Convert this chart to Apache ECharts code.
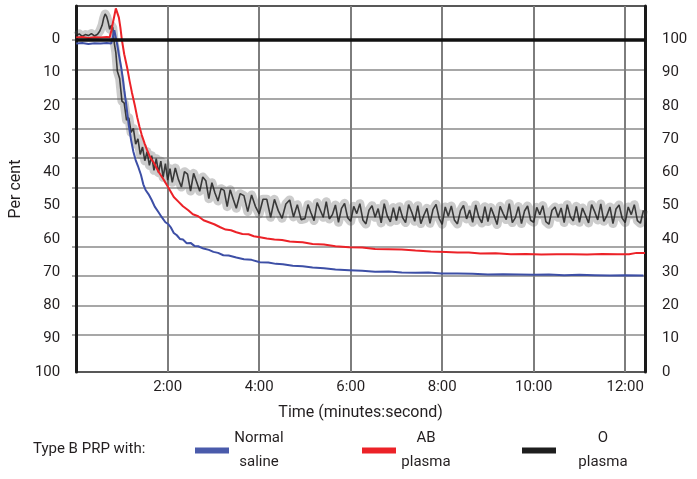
<!DOCTYPE html>
<html><head><meta charset="utf-8">
<script src="https://cdn.jsdelivr.net/npm/echarts@6/dist/echarts.min.js"></script>
<style>html,body{margin:0;padding:0;background:#fff}#c{width:697px;height:479px}</style>
</head><body><div id="c"></div>
<script>
// [time in seconds, per cent]
const bluePoints = [[0,1.3],[8,1.1],[16,1.4],[24,1.2],[32,1.3],[40,1.1],[46,1.3],[48,-0.6],[50,-2.7],[52,-0.5],[54,1.8],[56,4.6],[59,8.4],[61,11.6],[63,15.3],[65,18.5],[67,22.2],[69,25.9],[72,30.3],[75,33.8],[78,36.3],[81,38.1],[85,40.8],[88,43.6],[91,45.3],[95,46.6],[99,48.3],[103,50.3],[108,52],[112,53.4],[117,55],[121,55.6],[124,56.5],[128,58.2],[132,58.9],[136,60],[140,60.2],[145,61.3],[150,61.2],[155,62.1],[160,62.2],[167,62.9],[174,63.3],[180,63.9],[186,64.2],[193,64.9],[200,65],[210,65.6],[220,66.1],[230,66.3],[241,67],[252,67.1],[262,67.5],[271,67.6],[284,68.1],[297,68.2],[310,68.6],[325,68.8],[340,69.2],[358,69.4],[375,69.6],[392,69.9],[410,69.8],[427,70.1],[445,70.2],[462,70.1],[479,70.4],[500,70.4],[520,70.5],[540,70.7],[560,70.6],[580,70.7],[600,70.8],[620,70.7],[640,70.9],[660,70.8],[680,70.9],[700,71],[720,70.9],[744,71]];
const redPoints = [[0,-0.5],[8,-0.7],[16,-0.4],[24,-0.6],[32,-0.5],[40,-0.7],[44,-0.6],[46,-2.5],[48,-4.8],[50,-7],[52,-9.3],[54,-8.8],[56,-6.5],[58,-3.5],[60,0.3],[63,4.5],[67,8.7],[70,12.5],[73,15.9],[77,20],[80,23.4],[83,26.3],[86,28.8],[90,31.5],[93,33.3],[97,35.5],[102,37.2],[108,39.8],[115,42.3],[121,44.6],[128,47.4],[134,48.8],[140,50.2],[147,51.4],[153,52.6],[160,53.2],[167,54.4],[174,55],[181,55.6],[189,56.5],[196,57.2],[203,57.4],[210,58],[218,58.5],[226,58.6],[233,59.2],[241,59.5],[250,59.9],[260,60.2],[270,60.3],[280,60.8],[290,60.9],[297,61],[310,61.5],[325,61.7],[340,62.2],[358,62.5],[375,62.6],[392,63],[410,63.1],[427,63.2],[445,63.5],[465,63.8],[485,63.9],[500,64.1],[515,64.1],[530,64.4],[550,64.3],[570,64.6],[590,64.5],[610,64.7],[630,64.6],[650,64.6],[670,64.7],[690,64.5],[710,64.6],[725,64.6],[735,64.2],[746,64.2]];
const blackPoints = [[0,-1.0],[4,-1.6],[8,-0.9],[12,-1.4],[16,-1.1],[20,-1.7],[24,-1.0],[28,-1.5],[31,-2.5],[34,-4.2],[36,-6.3],[38,-7.6],[40,-6.8],[42,-5.1],[44,-3.0],[45,-2.7],[46,-4.2],[48,-3.5],[50,1.2],[52,4.0],[54,9.6],[57,11.8],[60,18.6],[63,19.2],[66,24.3],[69,23.6],[72,28],[75,26.8],[78,31.5],[81,29.9],[84,34.6],[87,32.4],[90,36.5],[93,33.8],[96,37.9],[99,35],[102,39.4],[105,35.9],[108,40.1],[111,36.6],[114,41.5],[117,37.4],[120,42.3],[123,38.9],[126,43],[130,38.7],[134,42.1],[138,44.4],[142,39.8],[146,40.5],[150,45.6],[154,40.3],[158,42.9],[162,45.7],[166,41.4],[170,42.5],[174,47.9],[178,43.1],[182,46.2],[186,48.6],[190,44.9],[194,45.4],[198,50.3],[202,45.2],[206,48.1],[210,50.8],[215,46.4],[220,47],[225,51.8],[230,46.8],[235,50.2],[240,52.5],[245,48.1],[250,48.1],[255,53.5],[260,48.1],[265,51.5],[270,53.8],[275,49.5],[280,48.3],[285,53.4],[290,49.7],[295,54.2],[300,53.9],[304,49.7],[308,52.2],[312,54.5],[316,49.1],[320,51.3],[324,53.5],[328,48.8],[332,54.0],[336,52.7],[340,49.8],[344,55.0],[348,50.8],[352,49.3],[356,53.6],[360,54.7],[364,50.2],[368,52.4],[372,49.4],[376,54.3],[380,55.5],[384,51.4],[388,50.0],[392,53.5],[396,50.9],[400,55.2],[404,49.4],[408,53.1],[412,54.9],[416,50.6],[420,54.5],[424,50.3],[428,53.5],[432,55.1],[436,49.7],[440,51.9],[444,54.7],[448,50.0],[452,55.4],[456,52.9],[460,50.8],[464,55.3],[468,51.1],[472,49.6],[476,53.8],[480,55.6],[484,50.4],[488,53.2],[492,50.1],[496,54.3],[500,55.5],[504,51.5],[508,49.9],[512,54.0],[516,51.3],[520,55.0],[524,49.8],[528,53.4],[532,55.2],[536,50.3],[540,54.8],[544,50.6],[548,53.0],[552,55.7],[556,50.2],[560,52.4],[564,54.2],[568,49.4],[572,55.1],[576,53.6],[580,50.3],[584,55.4],[588,51.6],[592,50.1],[596,54.4],[600,55.0],[604,50.5],[608,52.7],[612,50.0],[616,54.8],[620,55.6],[624,51.4],[628,50.4],[632,53.5],[636,50.7],[640,55.1],[644,49.7],[648,53.3],[652,54.6],[656,50.2],[660,55.0],[664,50.7],[668,52.9],[672,55.2],[676,49.7],[680,51.8],[684,54.3],[688,49.5],[692,54.7],[696,53.0],[700,50.4],[704,55.4],[708,51.0],[712,49.8],[716,53.7],[720,55.1],[724,50.4],[728,52.7],[732,49.7],[736,54.5],[740,55.3],[744,51.4]];
const seriesNames = ['Normal saline', 'AB plasma', 'O plasma'];
const seriesColors = ['#3d4fa6', '#ec2228', '#1e1e1e'];
const legendTitle = 'Type B PRP with:';
const xName = 'Time (minutes:second)';
const yName = 'Per cent';

const FONT = 'Roboto';
const TXT = '#231f20';
const chart = echarts.init(document.getElementById('c'), null, {renderer: 'canvas'});

function legendFor(i, left, w) {
  return {
    data: [seriesNames[i]], left: left, top: 431, icon: 'rect', itemWidth: 34, itemHeight: 6,
    selectedMode: false, padding: 0,
    itemStyle: {borderWidth: 0},
    formatter: n => n.split(' ').map(s => '{t|' + s + '}').join('\n'),
    textStyle: {rich: {t: {width: w, align: 'center', fontSize: 15, lineHeight: 24, color: TXT, fontFamily: FONT}}}
  };
}

chart.setOption({
  animation: false,
  backgroundColor: '#fff',
  title: {text: legendTitle, left: 33, top: 442, padding: 0,
    textStyle: {fontSize: 15, fontWeight: 'normal', color: TXT, fontFamily: FONT}},
  legend: [legendFor(0, 195, 50), legendFor(1, 362, 50), legendFor(2, 522, 84)],
  grid: [
    {left: 72, right: 52, top: 6, bottom: 107, show: true, borderColor: '#222', borderWidth: 1.5},
    {left: 72, right: 52, top: 40, bottom: 144, show: false}
  ],
  xAxis: [
    {type: 'value', gridIndex: 0, min: 0, max: 746, interval: 120,
      name: xName, nameLocation: 'middle', nameGap: 33,
      nameTextStyle: {fontSize: 16, color: TXT, fontFamily: FONT},
      axisLine: {show: true, lineStyle: {color: '#1a1a1a', width: 2}},
      axisTick: {show: false},
      axisLabel: {margin: 8, fontSize: 15, color: TXT, fontFamily: FONT,
        formatter: v => (v > 0 && v % 120 === 0) ? (v / 60) + ':00' : ''},
      splitLine: {show: true, lineStyle: {color: '#7d7d7d', width: 2}}},
    {type: 'value', gridIndex: 1, min: 0, max: 1, show: false}
  ],
  yAxis: [
    {type: 'value', gridIndex: 0, inverse: true, min: -10, max: 100, interval: 10,
      name: yName, nameLocation: 'middle', nameGap: 52,
      nameTextStyle: {fontSize: 16, color: TXT, fontFamily: FONT},
      axisLine: {show: true, lineStyle: {color: '#1a1a1a', width: 3}},
      axisTick: {show: false},
      axisLabel: {margin: 16, fontSize: 15, color: TXT, fontFamily: FONT,
        formatter: v => v < 0 ? '' : String(v)},
      splitLine: {show: false}},
    {type: 'value', gridIndex: 0, position: 'right', min: 0, max: 110, interval: 10,
      axisLine: {show: true, lineStyle: {color: '#1a1a1a', width: 3}},
      axisTick: {show: false},
      axisLabel: {margin: 17, fontSize: 15, color: TXT, fontFamily: FONT,
        formatter: v => v > 100 ? '' : String(v)},
      splitLine: {show: false}},
    {type: 'value', gridIndex: 1, inverse: true, min: 0, max: 10, interval: 1,
      axisLine: {show: false}, axisTick: {show: false}, axisLabel: {show: false},
      splitLine: {show: true, lineStyle: {color: '#8a8a8a', width: 1.5}}}
  ],
  series: [
    {type: 'line', xAxisIndex: 1, yAxisIndex: 2, data: [], silent: true},
    {name: 'O plasma band', type: 'line', data: blackPoints, showSymbol: false, symbol: 'none', silent: true,
      lineStyle: {color: '#555', width: 9, opacity: 0.3, join: 'round'}},
    {name: seriesNames[2], type: 'line', data: blackPoints, showSymbol: false, symbol: 'none',
      color: seriesColors[2], itemStyle: {color: seriesColors[2]},
      lineStyle: {color: seriesColors[2], width: 1.6, opacity: 0.85}},
    {name: seriesNames[0], type: 'line', data: bluePoints, showSymbol: false, symbol: 'none',
      color: seriesColors[0], itemStyle: {color: '#4a5bab'},
      lineStyle: {color: seriesColors[0], width: 2},
      markLine: {silent: true, symbol: 'none', label: {show: false},
        lineStyle: {color: '#111', width: 3.5, type: 'solid'}, data: [{yAxis: 0}]}},
    {name: seriesNames[1], type: 'line', data: redPoints, showSymbol: false, symbol: 'none',
      color: seriesColors[1], itemStyle: {color: seriesColors[1]},
      lineStyle: {color: seriesColors[1], width: 2}}
  ]
});
</script></body></html>
